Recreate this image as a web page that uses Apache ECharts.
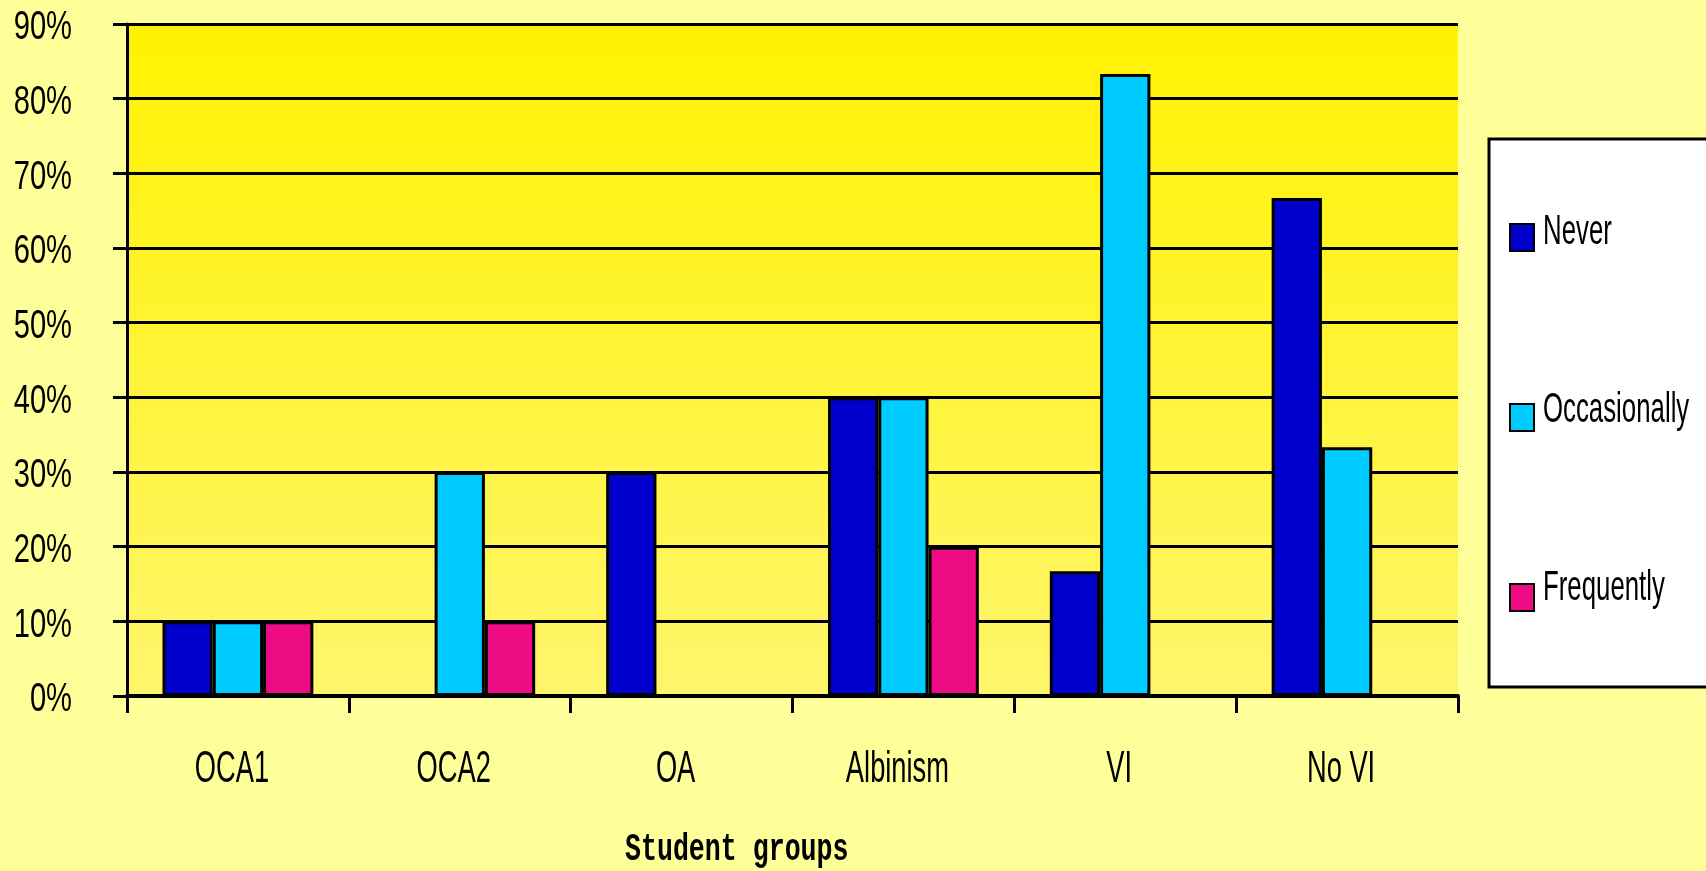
<!DOCTYPE html>
<html>
<head>
<meta charset="utf-8">
<title>Student groups</title>
<script src="https://cdn.jsdelivr.net/npm/echarts@6/dist/echarts.min.js"></script>
<style>
  html, body { margin: 0; padding: 0; background: #FFFF99; }
  #chart { width: 1706px; height: 871px; }
</style>
</head>
<body>
<div id="chart"></div>
<script>
// Student groups and percentage of answers per frequency
const categories = ['OCA1', 'OCA2', 'OA', 'Albinism', 'VI', 'No VI'];
const seriesNames = ['Never', 'Occasionally', 'Frequently'];
const never = [10, 0, 30, 40, 16.7, 66.7];
const occasionally = [10, 30, 0, 40, 83.3, 33.3];
const frequently = [10, 10, 0, 20, 0, 0];
const yTicks = [0, 10, 20, 30, 40, 50, 60, 70, 80, 90];
const xAxisTitle = 'Student groups';

const colors = ['#0000CC', '#00CCFF', '#EE0C84'];
const sans = "'Liberation Sans', Arial, sans-serif";
const mono = "'Liberation Mono', 'DejaVu Sans Mono', monospace";

// legend layout
const legendLeft = 1504, legendTop = 218, legendItemW = 24, legendItemH = 27, legendGap = 151;

const chart = echarts.init(document.getElementById('chart'), null, { renderer: 'canvas' });
const values = [never, occasionally, frequently];

chart.setOption({
  backgroundColor: '#FFFF99',
  animation: false,
  grid: {
    left: 127, right: 248, top: 24, bottom: 175,
    show: true,
    borderWidth: 0,
    backgroundColor: {
      type: 'linear', x: 0, y: 0, x2: 0, y2: 1,
      colorStops: [
        { offset: 0, color: '#FFF200' },
        { offset: 1, color: '#FFF56C' }
      ]
    }
  },
  legend: {
    data: seriesNames,
    orient: 'vertical',
    left: legendLeft,
    top: legendTop,
    itemWidth: legendItemW,
    itemHeight: legendItemH,
    itemGap: legendGap,
    icon: 'rect',
    z: 5,
    formatter: () => '',
    textStyle: { fontSize: 1 }
  },
  xAxis: {
    type: 'category',
    data: categories,
    axisLine: { show: true, lineStyle: { color: '#000000', width: 4 } },
    axisTick: { show: true, length: 17, lineStyle: { color: '#000000', width: 3 } },
    axisLabel: { show: false },
    splitLine: { show: false }
  },
  yAxis: {
    type: 'value',
    min: yTicks[0],
    max: yTicks[yTicks.length - 1],
    interval: yTicks[1] - yTicks[0],
    axisLine: { show: true, lineStyle: { color: '#000000', width: 3 } },
    axisTick: { show: true, length: 14, lineStyle: { color: '#000000', width: 3 } },
    axisLabel: { show: false },
    splitLine: { show: true, lineStyle: { color: '#000000', width: 3 } }
  },
  series: seriesNames.map((name, i) => ({
    name: name,
    type: 'bar',
    data: values[i],
    barGap: '0%',
    barCategoryGap: '32%',
    itemStyle: { color: colors[i], borderColor: '#000000', borderWidth: 3 }
  }))
});

// Condensed text labels placed through the axis scales
const graphics = [
  {
    type: 'rect', z: 0,
    shape: { x: 1489, y: 139, width: 260, height: 548 },
    style: { fill: '#FFFFFF', stroke: '#000000', lineWidth: 3 }
  }
];

yTicks.forEach(v => {
  const y = chart.convertToPixel({ yAxisIndex: 0 }, v);
  graphics.push({
    type: 'text', x: 72, y: y + 4, scaleX: 0.71, z: 10,
    style: {
      text: v + '%', font: '41px ' + sans, fill: '#000000',
      align: 'right', verticalAlign: 'middle'
    }
  });
});

categories.forEach(c => {
  const x = chart.convertToPixel({ xAxisIndex: 0 }, c);
  graphics.push({
    type: 'text', x: x - 6, y: 770, scaleX: 0.62, z: 10,
    style: {
      text: c, font: '44px ' + sans, fill: '#000000',
      align: 'center', verticalAlign: 'middle'
    }
  });
});

seriesNames.forEach((name, i) => {
  const cy = legendTop + legendItemH / 2 + i * (legendItemH + legendGap) + 1;
  graphics.push({
    type: 'text', x: legendLeft + 39, y: cy, scaleX: 0.6, z: 10,
    style: {
      text: name, font: '43px ' + sans, fill: '#000000',
      align: 'left', verticalAlign: 'middle'
    }
  });
});

graphics.push({
  type: 'text', x: 625, y: 850, scaleX: 0.7, z: 10,
  style: {
    text: xAxisTitle, font: 'bold 38px ' + mono, fill: '#000000',
    align: 'left', verticalAlign: 'middle'
  }
});

chart.setOption({ graphic: graphics });
</script>
</body>
</html>
